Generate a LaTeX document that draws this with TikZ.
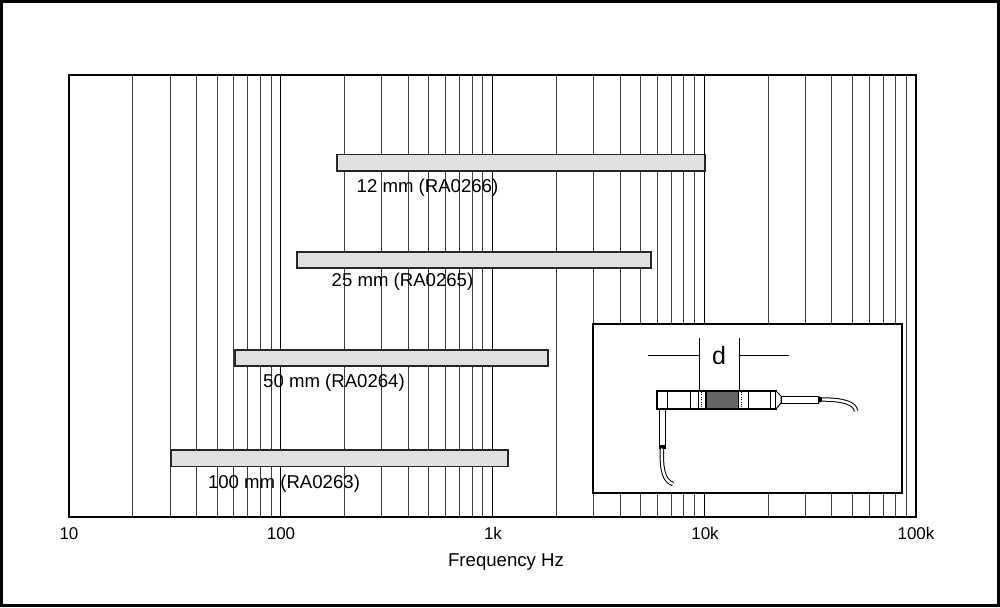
\documentclass[tikz,border=0pt]{standalone}
\usepackage{fontspec}
\setmainfont{Liberation Sans}
\usepackage{tikz}

\begin{document}
\begin{tikzpicture}[x=1pt,y=-1pt]
\tikzstyle{every node}=[inner sep=0pt,anchor=base,font=\fontsize{18.6}{21}\selectfont];
\tikzstyle{minor}=[line width=0.9pt,draw=black!75];
\tikzstyle{decade}=[line width=1.3pt,draw=black];
\tikzstyle{bar}=[line width=1.6pt,draw=black!85,fill=black!12];
\tikzstyle{tick}=[font=\fontsize{17}{20}\selectfont];
\useasboundingbox (0,0) rectangle (1000,607);
\draw[line width=3pt] (1.5,1.5) rectangle (998.5,605.5);
% grid
\foreach \d in {0,...,3}{
	\foreach \k in {2,...,9}{
		\draw[minor] ({69+211.75*(\d+log10(\k))},75) -- ++(0,442);
	}
}
\foreach \d in {1,...,3}{
	\draw[decade] ({69+211.75*\d},75) -- ++(0,442);
}
\draw[line width=1.5pt] (69,75) rectangle (916,517);
\draw[line width=2.2pt] (69,517) -- (916,517);
% axis
\node[tick] (t0) at (69,539) {10};
\node[tick] (t1) at (281,539) {100};
\node[tick] (t2) at (493,539) {1k};
\node[tick] (t3) at (705,539) {10k};
\node[tick] (t4) at (916,539) {100k};
\node (axis) at (506,566) {Frequency Hz};
% bars
\draw[bar] (337,154.5) rectangle (705,171);
\node (b12) at (427.5,192) {12 mm (RA0266)};
\draw[bar] (297,252) rectangle (651,268);
\node (b25) at (402.5,286) {25 mm (RA0265)};
\draw[bar] (235,350) rectangle (548,366);
\node (b50) at (334,387) {50 mm (RA0264)};
\draw[bar] (171,450) rectangle (508,466.5);
\node (b100) at (284,488.5) {100 mm (RA0263)};
% inset
\draw[line width=1.2pt,fill=white] (593,324) rectangle (902,493);
\draw[line width=0.8pt] (699,338) -- (699,391);
\draw[line width=0.8pt] (739,338) -- (739,391);
\draw[line width=0.8pt] (648,355) -- (699,355);
\draw[line width=0.8pt] (739,355) -- (789,355);
\node[font=\fontsize{25}{25}\selectfont] (d) at (719,364) {d};
\draw[line width=1pt,fill=white] (657,391) rectangle (776,409);
\fill[black!60] (706,391) rectangle (738,409);
\draw[line width=1.4pt] (667.5,391) -- (667.5,409);
\draw[line width=0.5pt] (690.5,391) -- (690.5,409);
\draw[line width=0.8pt] (698.5,391) -- (698.5,409);
\draw[line width=0.5pt,dash pattern=on 0.8pt off 1.6pt] (700.8,392) -- (700.8,408);
\draw[line width=1.4pt] (706,391) -- (706,409);
\draw[line width=0.8pt] (738.5,391) -- (738.5,409);
\draw[line width=0.5pt,dash pattern=on 0.8pt off 1.6pt] (740.8,392) -- (740.8,408);
\draw[line width=0.5pt] (748.5,391) -- (748.5,409);
\draw[line width=0.8pt] (770,391) -- (770,409);
\draw[line width=1.3pt] (657,391) rectangle (776,409);
\draw[line width=1pt,fill=white] (776,391) -- (781,396) -- (781,403) -- (776,409);
\draw[line width=0.9pt] (781,396) rectangle (818,403);
\fill (818,396) -- (822,397.5) -- (822,401.5) -- (818,403) -- cycle;
\draw[line width=1pt,double=white,double distance=2.4pt] (822,399.5) .. controls (843,399.5) and (855,403) .. (856,411);
\draw[line width=0.9pt] (659,409) rectangle (665.5,445);
\fill (659,445) rectangle (665.5,448.5);
\draw[line width=1pt,double=white,double distance=2.4pt] (662,448.5) .. controls (661,470) and (664,481) .. (673,484);
\end{tikzpicture}
\end{document}
